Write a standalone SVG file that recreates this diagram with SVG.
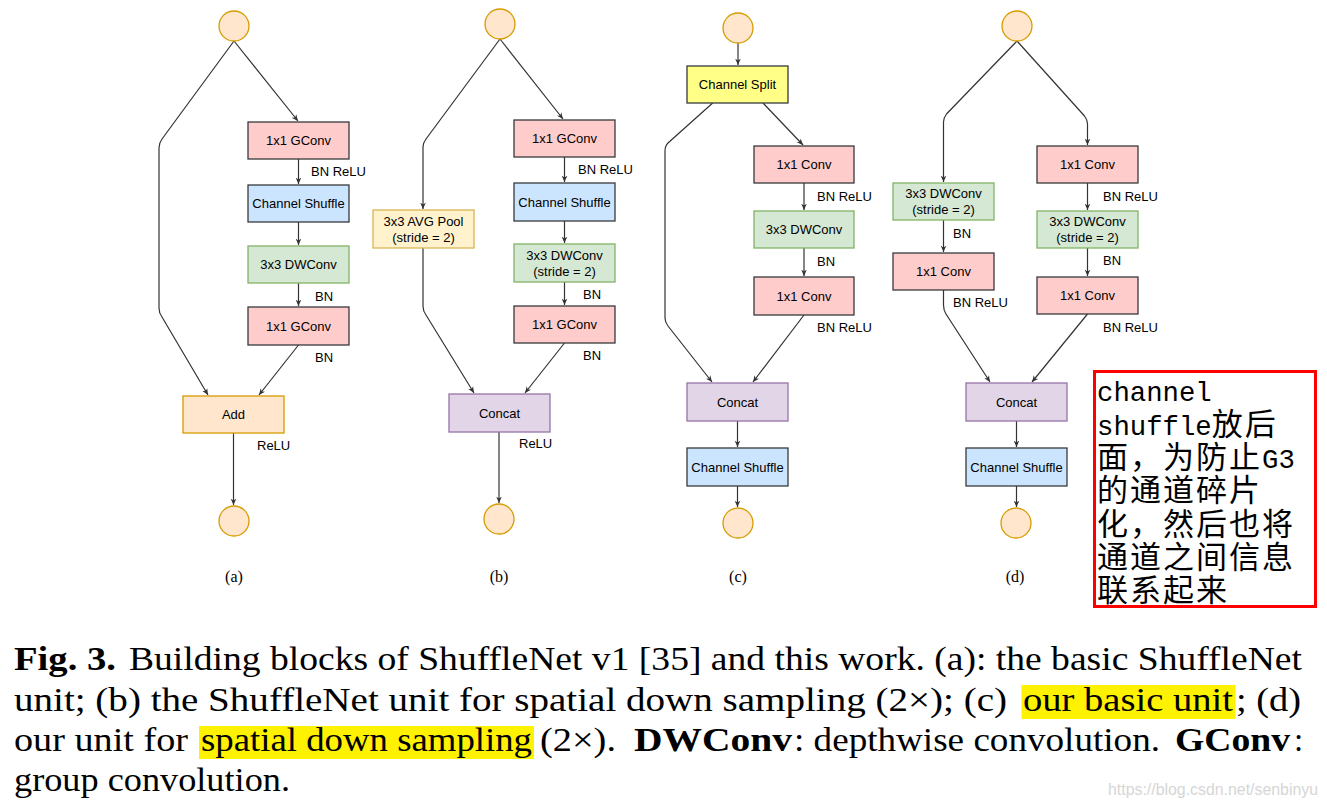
<svg xmlns="http://www.w3.org/2000/svg" width="1327" height="807" viewBox="0 0 1327 807">
<style>
.bx{stroke-width:1.3}
.pink{fill:#ffcccc;stroke:#36393d}
.blue{fill:#cce5ff;stroke:#36393d}
.green{fill:#d5e8d4;stroke:#82b366}
.orange{fill:#ffe6cc;stroke:#d79b00}
.ylw{fill:#fff2cc;stroke:#d6b656}
.purple{fill:#e1d5e7;stroke:#9673a6}
.split{fill:#ffff88;stroke:#36393d}
.t{font-family:"Liberation Sans",Arial,sans-serif;font-size:13px;fill:#000;text-anchor:middle}
.l{font-family:"Liberation Sans",Arial,sans-serif;font-size:13px;fill:#000}
.sub{font-family:"Liberation Serif","Times New Roman",serif;font-size:16px;fill:#000;text-anchor:middle}
.cap{font-family:"Liberation Serif","Times New Roman",serif;font-size:33px;fill:#000}
.b{font-weight:bold}
.conn path{fill:none;stroke:#333;stroke-width:1.2;marker-end:url(#ah)}
.mono{font-family:"Liberation Mono",monospace;font-size:27.3px}
</style>
<defs>
<marker id="ah" viewBox="0 0 10 10" refX="9" refY="5" markerWidth="7" markerHeight="7" markerUnits="userSpaceOnUse" orient="auto">
<path d="M0,1 L9,5 L0,9 L2.5,5 z" fill="#333"/>
</marker>
</defs>
<rect width="1327" height="807" fill="#fff"/>

<!-- connectors -->
<g class="conn" id="connectors">
<!-- a -->
<path d="M234,41 L298,121"/>
<path d="M234,41 L162,139 Q159,143 159,148 L159,308 Q159,313 162,317 L208,395"/>
<path d="M298.5,159 L298.5,184"/>
<path d="M298.5,222 L298.5,245"/>
<path d="M298.5,283 L298.5,306"/>
<path d="M298.5,345 L259,395"/>
<path d="M233.5,433 L233.5,505"/>
<!-- b -->
<path d="M500,39 L563,119"/>
<path d="M500,39 L426,139 Q423,143 423,147 L423,209"/>
<path d="M423,248 L423,306 Q423,311 426,315 L474,393"/>
<path d="M564.5,157 L564.5,182"/>
<path d="M564.5,221 L564.5,243"/>
<path d="M564.5,282 L564.5,305"/>
<path d="M564.5,343 L525,393"/>
<path d="M499,432 L499,503"/>
<!-- c -->
<path d="M738,43 L738,65"/>
<path d="M763,103 L803,145"/>
<path d="M712.7,103 L668,143 Q665,146 665,151 L665,318 Q665,322 668,326 L712,382"/>
<path d="M804,183 L804,210"/>
<path d="M804,248 L804,276"/>
<path d="M804,315 L753,382"/>
<path d="M737.5,421 L737.5,447"/>
<path d="M737.5,486 L737.5,507"/>
<!-- d -->
<path d="M1017,41 L946.5,114 Q943.5,118 943.5,122 L943.5,182"/>
<path d="M1017,41 L1084.5,116 Q1087.5,120 1087.5,124 L1087.5,145"/>
<path d="M943.5,220 L943.5,252"/>
<path d="M943.5,290 L943.5,305 Q943.5,310 946,314 L990,382"/>
<path d="M1087.5,183 L1087.5,210"/>
<path d="M1087.5,248 L1087.5,276"/>
<path d="M1087.5,314 L1032,382"/>
<path d="M1016.5,421 L1016.5,447"/>
<path d="M1016.5,486 L1016.5,507"/>
</g>

<!-- (a) -->
<g id="a-in"><circle cx="234" cy="26" r="15" class="orange bx"/></g>
<g id="a-gconv1"><rect x="248" y="122" width="101" height="37" class="pink bx"/><text x="298.5" y="145" class="t">1x1 GConv</text></g>
<g id="a-shuffle"><rect x="248" y="185" width="101" height="37" class="blue bx"/><text x="298.5" y="208" class="t">Channel Shuffle</text></g>
<g id="a-dw"><rect x="248" y="246" width="101" height="37" class="green bx"/><text x="298.5" y="269" class="t">3x3 DWConv</text></g>
<g id="a-gconv2"><rect x="248" y="307" width="101" height="38" class="pink bx"/><text x="298.5" y="330.5" class="t">1x1 GConv</text></g>
<g id="a-add"><rect x="183" y="396" width="101" height="37" class="orange bx"/><text x="233.5" y="419" class="t">Add</text></g>
<g id="a-out"><circle cx="234" cy="521" r="15" class="orange bx"/></g>
<g id="a-labels">
<text x="311" y="176" class="l">BN ReLU</text>
<text x="315" y="301" class="l">BN</text>
<text x="315" y="362" class="l">BN</text>
<text x="257" y="450" class="l">ReLU</text>
<text x="234" y="582" class="sub">(a)</text>
</g>

<!-- (b) -->
<g id="b-in"><circle cx="500" cy="24" r="15" class="orange bx"/></g>
<g id="b-gconv1"><rect x="514" y="120" width="101" height="37" class="pink bx"/><text x="564.5" y="143" class="t">1x1 GConv</text></g>
<g id="b-shuffle"><rect x="514" y="183" width="101" height="38" class="blue bx"/><text x="564.5" y="206.5" class="t">Channel Shuffle</text></g>
<g id="b-dw"><rect x="514" y="244" width="101" height="38" class="green bx"/><text x="564.5" y="259.5" class="t">3x3 DWConv</text><text x="564.5" y="275.5" class="t">(stride = 2)</text></g>
<g id="b-gconv2"><rect x="514" y="306" width="101" height="37" class="pink bx"/><text x="564.5" y="329" class="t">1x1 GConv</text></g>
<g id="b-pool"><rect x="373" y="210" width="101" height="38" class="ylw bx"/><text x="423.5" y="225.5" class="t">3x3 AVG Pool</text><text x="423.5" y="241.5" class="t">(stride = 2)</text></g>
<g id="b-concat"><rect x="449" y="394" width="101" height="38" class="purple bx"/><text x="499.5" y="417.5" class="t">Concat</text></g>
<g id="b-out"><circle cx="499" cy="519" r="15" class="orange bx"/></g>
<g id="b-labels">
<text x="578" y="174" class="l">BN ReLU</text>
<text x="583" y="299" class="l">BN</text>
<text x="583" y="360" class="l">BN</text>
<text x="519" y="448" class="l">ReLU</text>
<text x="499" y="582" class="sub">(b)</text>
</g>

<!-- (c) -->
<g id="c-in"><circle cx="738" cy="28" r="15" class="orange bx"/></g>
<g id="c-split"><rect x="687" y="66" width="101" height="37" class="split bx"/><text x="737.5" y="89" class="t">Channel Split</text></g>
<g id="c-conv1"><rect x="754" y="146" width="100" height="37" class="pink bx"/><text x="804" y="169" class="t">1x1 Conv</text></g>
<g id="c-dw"><rect x="754" y="211" width="100" height="37" class="green bx"/><text x="804" y="234" class="t">3x3 DWConv</text></g>
<g id="c-conv2"><rect x="754" y="277" width="100" height="38" class="pink bx"/><text x="804" y="300.5" class="t">1x1 Conv</text></g>
<g id="c-concat"><rect x="687" y="383" width="101" height="38" class="purple bx"/><text x="737.5" y="406.5" class="t">Concat</text></g>
<g id="c-shuffle"><rect x="687" y="448" width="101" height="38" class="blue bx"/><text x="737.5" y="471.5" class="t">Channel Shuffle</text></g>
<g id="c-out"><circle cx="738" cy="523" r="15" class="orange bx"/></g>
<g id="c-labels">
<text x="817" y="201" class="l">BN ReLU</text>
<text x="817" y="266" class="l">BN</text>
<text x="817" y="332" class="l">BN ReLU</text>
<text x="738" y="582" class="sub">(c)</text>
</g>

<!-- (d) -->
<g id="d-in"><circle cx="1017" cy="26" r="15" class="orange bx"/></g>
<g id="d-ldw"><rect x="893" y="183" width="101" height="37" class="green bx"/><text x="943.5" y="198" class="t">3x3 DWConv</text><text x="943.5" y="214" class="t">(stride = 2)</text></g>
<g id="d-lconv"><rect x="893" y="253" width="101" height="37" class="pink bx"/><text x="943.5" y="276" class="t">1x1 Conv</text></g>
<g id="d-rconv1"><rect x="1037" y="146" width="101" height="37" class="pink bx"/><text x="1087.5" y="169" class="t">1x1 Conv</text></g>
<g id="d-rdw"><rect x="1037" y="211" width="101" height="37" class="green bx"/><text x="1087.5" y="226" class="t">3x3 DWConv</text><text x="1087.5" y="242" class="t">(stride = 2)</text></g>
<g id="d-rconv2"><rect x="1037" y="277" width="101" height="37" class="pink bx"/><text x="1087.5" y="300" class="t">1x1 Conv</text></g>
<g id="d-concat"><rect x="966" y="383" width="101" height="38" class="purple bx"/><text x="1016.5" y="406.5" class="t">Concat</text></g>
<g id="d-shuffle"><rect x="966" y="448" width="101" height="38" class="blue bx"/><text x="1016.5" y="471.5" class="t">Channel Shuffle</text></g>
<g id="d-out"><circle cx="1016" cy="523" r="15" class="orange bx"/></g>
<g id="d-labels">
<text x="953" y="238" class="l">BN</text>
<text x="953" y="307" class="l">BN ReLU</text>
<text x="1103" y="201" class="l">BN ReLU</text>
<text x="1103" y="265" class="l">BN</text>
<text x="1103" y="332" class="l">BN ReLU</text>
<text x="1015" y="582" class="sub">(d)</text>
</g>

<!-- note -->
<g id="note">
<rect x="1094.5" y="371.5" width="221" height="235" fill="none" stroke="#ff0000" stroke-width="3"/>
<g font-family="'Noto Sans CJK SC',sans-serif" font-size="31" letter-spacing="2" fill="#000">
<text x="1097" y="401"><tspan class="mono" letter-spacing="0">channel</tspan></text>
<text x="1097" y="434.5"><tspan class="mono" letter-spacing="0">shuffle</tspan>放后</text>
<text x="1097" y="468">面，为防止<tspan class="mono" letter-spacing="0">G3</tspan></text>
<text x="1097" y="501">的通道碎片</text>
<text x="1097" y="534.5">化，然后也将</text>
<text x="1097" y="568">通道之间信息</text>
<text x="1097" y="601">联系起来</text>
</g>
</g>

<!-- caption -->
<g id="caption">
<rect x="1021.5" y="685" width="214" height="34" fill="#fff200"/>
<rect x="199" y="726" width="335" height="33" fill="#fff200"/>
<text x="14" y="670" class="cap b" textLength="102" lengthAdjust="spacingAndGlyphs">Fig. 3.</text>
<text x="129" y="670" class="cap" textLength="1173" lengthAdjust="spacingAndGlyphs">Building blocks of ShuffleNet v1 [35] and this work. (a): the basic ShuffleNet</text>
<text x="14" y="711" class="cap" textLength="993" lengthAdjust="spacingAndGlyphs">unit; (b) the ShuffleNet unit for spatial down sampling (2×); (c)</text>
<text x="1023" y="711" class="cap" textLength="210" lengthAdjust="spacingAndGlyphs">our basic unit</text>
<text x="1236" y="711" class="cap" textLength="65" lengthAdjust="spacingAndGlyphs">; (d)</text>
<text x="14" y="751" class="cap" textLength="174" lengthAdjust="spacingAndGlyphs">our unit for</text>
<text x="201" y="751" class="cap" textLength="331" lengthAdjust="spacingAndGlyphs">spatial down sampling</text>
<text x="540" y="751" class="cap" textLength="76" lengthAdjust="spacingAndGlyphs">(2×).</text>
<text x="634" y="751" class="cap b" textLength="158" lengthAdjust="spacingAndGlyphs">DWConv</text>
<text x="794" y="751" class="cap" textLength="366" lengthAdjust="spacingAndGlyphs">: depthwise convolution.</text>
<text x="1175" y="751" class="cap b" textLength="115" lengthAdjust="spacingAndGlyphs">GConv</text>
<text x="1294" y="751" class="cap">:</text>
<text x="14" y="791" class="cap" textLength="276" lengthAdjust="spacingAndGlyphs">group convolution.</text>
</g>
<text id="watermark" x="1108" y="795" font-family="'Liberation Sans',Arial,sans-serif" font-size="16" fill="#d6d6d6" textLength="210" lengthAdjust="spacingAndGlyphs">https://blog.csdn.net/senbinyu</text>
</svg>
